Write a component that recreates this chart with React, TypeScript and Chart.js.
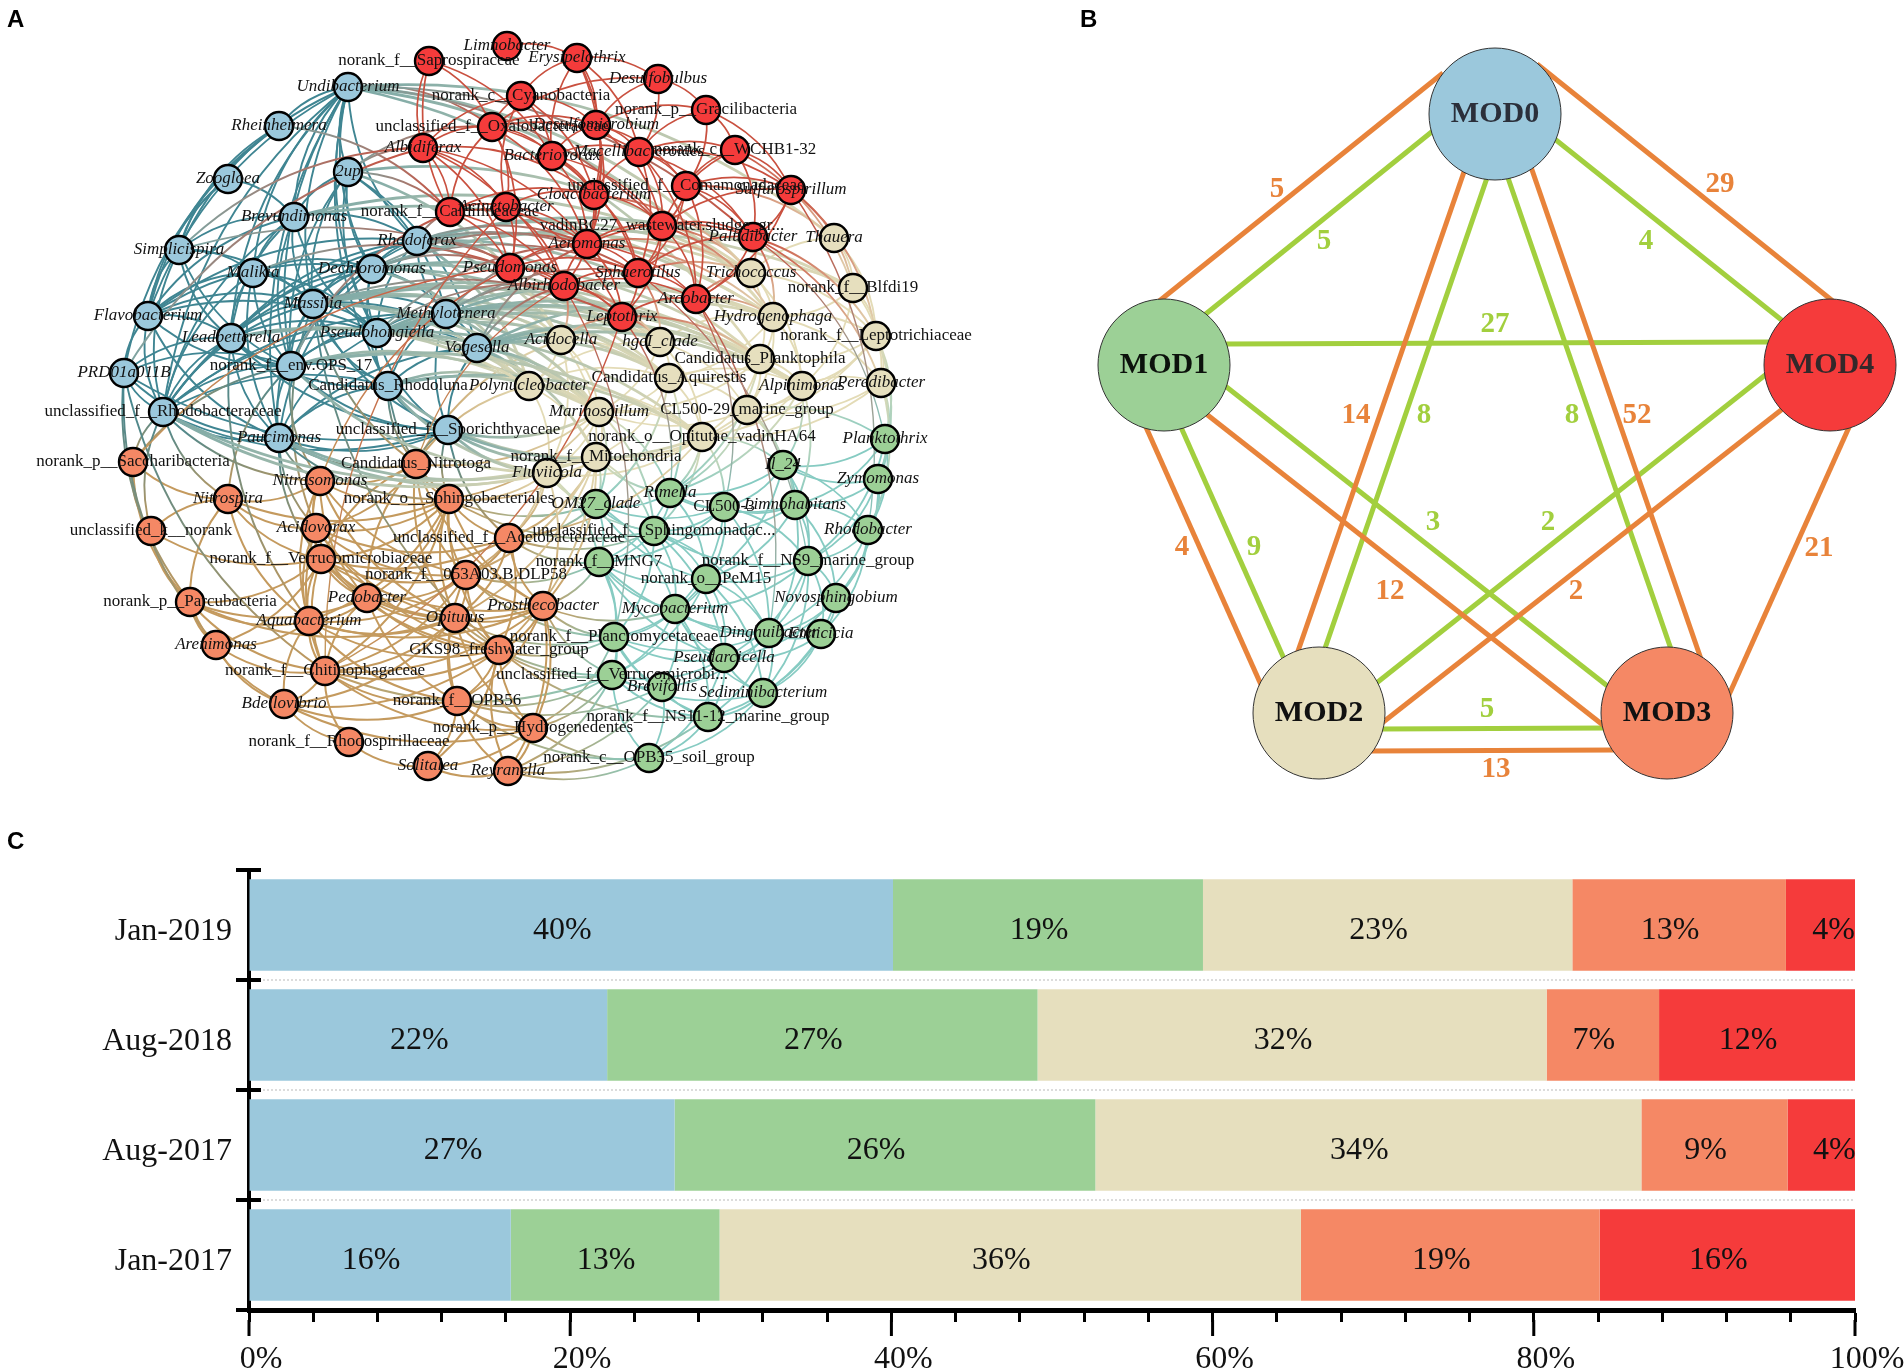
import React, { useEffect, useRef } from "react";
import { Chart, registerables } from "chart.js";
Chart.register(...registerables);

/* ---------- Panel A: network ---------- */
type N = [string, number, number];
const redNodes: N[] = [
  ["Limnobacter", 507, 46], ["Erysipelothrix", 577, 58], ["norank_f__Saprospiraceae", 429, 61], ["Desulfobulbus", 658, 79],
  ["norank_c__Cyanobacteria", 521, 96], ["norank_p__Gracilibacteria", 706, 110], ["Desulfomicrobium", 596, 125],
  ["unclassified_f__Oxalobacteraceae", 492, 127], ["norank_c__WCHB1-32", 735, 150], ["Albidiferax", 423, 148],
  ["Bacteriovorax", 552, 156], ["Macellibacteroides", 639, 152], ["unclassified_f__Comamonadaceae", 686, 186],
  ["Sulfurospirillum", 791, 190], ["Cloacibacterium", 594, 195], ["Acinetobacter", 506, 207],
  ["norank_f__Caldilineaceae", 450, 212], ["vadinBC27_wastewater.sludge_gr...", 662, 226], ["Paludibacter", 753, 237],
  ["Aeromonas", 587, 244], ["Pseudomonas", 510, 268], ["Sphaerotilus", 638, 273], ["Albirhodobacter", 564, 286],
  ["Arcobacter", 696, 299], ["Leptothrix", 622, 317],
];
const beigeNodes: N[] = [
  ["Thauera", 834, 238], ["Trichococcus", 751, 273], ["norank_f__Blfdi19", 853, 288], ["Hydrogenophaga", 773, 317],
  ["norank_f__Leptotrichiaceae", 876, 336], ["Acidocella", 561, 340], ["hgcI_clade", 660, 342],
  ["Candidatus_Planktophila", 760, 359], ["Candidatus_Aquirestis", 669, 378], ["Polynucleobacter", 529, 386],
  ["Alpinimonas", 802, 386], ["Peredibacter", 881, 383], ["Marinoscillum", 599, 412], ["CL500-29_marine_group", 747, 410],
  ["norank_o__Opitutae_vadinHA64", 702, 437], ["norank_f__Mitochondria", 596, 457], ["Fluviicola", 547, 473],
];
const blueNodes: N[] = [
  ["Undibacterium", 348, 87], ["Rheinheimera", 279, 126], ["2up", 348, 172], ["Zoogloea", 228, 179],
  ["Brevundimonas", 294, 217], ["Simplicispira", 179, 250], ["Rhodoferax", 417, 241], ["Dechloromonas", 372, 269],
  ["Malikia", 253, 273], ["Massilia", 313, 304], ["Flavobacterium", 148, 316], ["Methylotenera", 446, 314],
  ["Leadbetterella", 231, 338], ["Pseudohongiella", 377, 333], ["Vogesella", 477, 348], ["norank_f__env.OPS_17", 291, 366],
  ["PRD01a011B", 124, 373], ["Candidatus_Rhodoluna", 388, 386], ["unclassified_f__Rhodobacteraceae", 163, 412],
  ["Paucimonas", 279, 438], ["unclassified_f__Sporichthyaceae", 448, 430],
];
const orangeNodes: N[] = [
  ["norank_p__Saccharibacteria", 133, 462], ["Candidatus_Nitrotoga", 416, 464], ["Nitrosomonas", 320, 481],
  ["Nitrospira", 228, 499], ["norank_o__Sphingobacteriales", 449, 499], ["unclassified_k__norank", 151, 531],
  ["Acidovorax", 316, 528], ["unclassified_f__Acetobacteraceae", 509, 538], ["norank_f__Verrucomicrobiaceae", 321, 559],
  ["norank_f__053A03.B.DLP58", 466, 575], ["norank_p__Parcubacteria", 190, 602], ["Pedobacter", 367, 598],
  ["Prosthecobacter", 543, 606], ["Opitutus", 455, 618], ["Aquabacterium", 309, 621], ["Arenimonas", 216, 645],
  ["GKS98_freshwater_group", 499, 650], ["norank_f__Chitinophagaceae", 325, 671], ["Bdellovibrio", 284, 704],
  ["norank_f__OPB56", 457, 701], ["norank_p__Hydrogenedentes", 533, 728], ["norank_f__Rhodospirillaceae", 349, 742],
  ["Solitalea", 428, 766], ["Reyranella", 508, 771],
];
const greenNodes: N[] = [
  ["Planktothrix", 885, 439], ["Il_24", 783, 465], ["Zymomonas", 878, 479], ["Rimella", 670, 493], ["OM27_clade", 596, 504],
  ["CL500-3", 724, 507], ["Limnohabitans", 795, 505], ["Rhodobacter", 868, 530], ["unclassified_f__Sphingomonadac...", 654, 531],
  ["norank_f__MNG7", 599, 562], ["norank_f__NS9_marine_group", 808, 561], ["norank_o__PeM15", 706, 579],
  ["Novosphingobium", 836, 598], ["Mycobacterium", 675, 609], ["norank_f__Planctomycetaceae", 614, 637],
  ["Dinghuibacter", 769, 633], ["Emticicia", 821, 634], ["Pseudarcicella", 724, 658],
  ["unclassified_f__Verrucomicrobi...", 612, 675], ["Brevifollis", 662, 687], ["Sediminibacterium", 763, 693],
  ["norank_f__NS11-12_marine_group", 708, 717], ["norank_c__OPB35_soil_group", 649, 758],
];

const redLinks = [[1],[4,6,11,14,19,10,3],[7,9,16,10],[5,6,7,11],[7,9,14,10,6,15],[6,8,11,12,13],[7,10,11,12,14,17,19],[9,10,11,14,15,16,19,20],[11,12,13,17,18],[15,16,20,22,14,19],[14,17,19,21,11],[12,14,17,18,21,23,13],[13,17,18,21,23],[18,17,23],[16,15,17,19,21,22],[16,19,20,22,24],[19,20,22],[18,19,21,23,24],[21,23,19],[20,21,22,24,23],[22,21,24],[22,23,24],[24,23],[24],[]];
const beigeLinks = [[2,1,4],[2,3,4,7,10],[3,4,10,11],[4,6,7,8,10,11,13],[7,10,11,13,14],[6,8,9,12,15,16],[7,8,9,12,13,14],[8,10,13,14,12],[9,10,12,13,14,15],[12,15,16,14],[11,13,14],[13,14],[13,14,15,16],[14,15],[15,16],[16],[]];
const blueLinks = [[1,2,4,5,6,7,8,9,10,12,13,15,17,18,19],[5,10,16],[4,7,9,11,13,14,15],[4,5,10],[5,6,8,9,10,12,13,15,18],[8,9,10,12,15,18],[7,9,10,11,12,13,15,18],[8,9,10,11,12,13,15,17,18,19],[9,10,12,13,15,18,19],[10,11,12,13,14,15,17,18,19,20],[12,13,15,16,18,19],[13,14,15,17,18,20],[13,15,16,17,18,19,20],[14,15,17,18,19,20],[17,19,20],[16,17,18,19,20],[18,19,20],[18,19,20],[19,20],[20],[]];
const orangeLinks = [[5,3,10],[2,4,6,8,9,11,12,13],[3,4,6,8,11,14,13,9],[5,6,8,10,14,4],[6,7,8,9,11,12,13,14,16,17],[8,10],[7,8,9,11,13,14,17,16],[8,9,12,13,16],[9,10,11,12,13,14,15,16,17],[11,12,13,14,16,17,19],[11,14,15,17,18,13],[12,13,14,16,17,19],[13,14,16,17,19,20,23],[14,16,17,18,19,20],[15,16,17,18,19],[17,18],[17,18,19,20,22,23],[18,19,20,21],[19,20,21],[20,22,23],[22,23],[22],[23],[]];
const greenLinks = [[1,2,6,7,10],[2,3,5,6,7,10,11],[6,7,10,12],[4,5,6,8,9,11],[5,8,9,11,13],[6,8,9,10,11,13,15],[7,8,10,11,12,15],[10,12,15,16],[9,10,11,13,14,15,17],[11,13,14,15,17,18],[11,12,13,15,16,17,20],[13,14,15,17,18,20],[15,16,17,20],[14,15,17,18,19,20,21],[15,17,18,19,21],[16,17,19,20,21],[17,20,21],[18,19,20,21,22],[19,20,21,22],[21,22],[21,22],[22],[]];

const blueBeigeLinks = [[6,1],[6,3],[6,5],[6,6],[6,7],[6,9],[7,1],[7,5],[7,6],[7,8],[7,9],[9,5],[9,6],[9,8],[9,9],[9,12],[11,5],[11,6],[11,8],[11,9],[11,12],[13,5],[13,6],[13,8],[13,9],[13,12],[13,14],[14,5],[14,6],[14,9],[14,12],[14,15],[15,9],[15,12],[15,14],[15,16],[17,9],[17,12],[17,14],[17,15],[17,16],[20,12],[20,14],[20,15],[20,16],[18,15],[18,16],[19,15],[19,16],[0,0],[0,1],[0,3],[0,7],[4,1],[4,3],[2,1],[2,5],[12,9],[12,12],[7,2],[6,2],[11,3],[13,3],[14,3],[11,7],[13,7],[14,7],[7,7],[14,8],[14,10],[13,10],[11,10],[9,10],[9,7]];
const blueRedLinks = [[1,16],[2,9],[2,7],[2,16],[5,22],[8,20],[6,16],[6,20],[7,20],[11,22],[14,22],[0,7],[13,22],[16,9],[5,9],[9,24],[15,16],[0,17],[0,18],[6,19],[7,19],[11,19],[13,19],[14,19],[6,21],[7,21],[11,21]];
const redBeigeLinks = [[17,1],[18,1],[18,3],[19,1],[21,1],[23,3],[23,1],[24,6],[24,5],[14,1],[12,0],[13,2],[13,4],[8,2],[18,4],[18,11],[21,6],[22,5],[22,6],[17,3],[24,7],[19,3]];
const orangeBlueLinks = [[0,18],[0,15],[3,18],[3,15],[1,9],[1,17],[1,20],[2,15],[2,19],[4,20],[4,17],[6,9],[6,19],[8,19],[16,9],[17,16],[14,12],[10,16],[15,16],[5,18],[4,19],[7,20],[1,19],[2,18]];
const orangeBeigeLinks = [[1,9],[1,12],[4,16],[4,15],[4,12],[7,16],[7,15],[7,14],[9,16],[9,15],[12,16],[12,15],[1,5],[16,15],[13,15]];
const orangeGreenLinks = [[7,4],[7,8],[7,9],[9,9],[9,14],[12,9],[12,13],[12,14],[12,18],[16,14],[16,18],[16,21],[20,14],[20,18],[20,22],[23,22],[23,19],[23,18],[23,21],[19,18],[19,19],[19,22],[13,14],[13,18],[17,18],[4,4],[4,8]];
const beigeGreenLinks = [[14,1],[14,3],[14,5],[14,8],[13,1],[13,0],[13,6],[13,3],[15,4],[15,8],[15,3],[16,4],[16,9],[16,8],[12,4],[12,8],[12,3],[7,3],[8,3],[8,4],[11,0],[11,7],[4,0],[4,2],[10,6],[10,1],[11,2],[10,3]];
const redGreenLinks = [[24,3],[22,14],[18,0],[23,15],[13,7],[23,5],[21,10]];
const redOrangeLinks = [[15,17],[24,17],[20,2],[22,1],[20,0]];

/* ---------- Panel B: module links ---------- */
const moduleNames = ["MOD0", "MOD1", "MOD2", "MOD3", "MOD4"];
const moduleX = [1495, 1164, 1319, 1667, 1830];
const moduleY = [114, 365, 713, 713, 365];
// [x1, y1, x2, y2] of each drawn link
const positiveLinks = [
  [1443, 73, 1158, 302], [1537, 64, 1834, 302], [1465, 169, 1297, 654], [1531, 167, 1701, 659], [1205, 413, 1608, 729],
  [1145, 425, 1262, 687], [1785, 407, 1382, 723], [1850, 425, 1728, 697], [1370, 751, 1615, 750],
];
const negativeLinks = [
  [1434, 130, 1202, 317], [1551, 136, 1784, 322], [1488, 175, 1323, 654], [1507, 175, 1672, 652], [1225, 344, 1770, 342],
  [1224, 385, 1610, 688], [1180, 425, 1285, 661], [1769, 372, 1374, 685], [1380, 729, 1606, 728],
];
const positiveLabels: [string, number, number][] = [
  ["5", 1277, 190], ["29", 1720, 185], ["14", 1356, 416], ["52", 1637, 416], ["4", 1182, 548], ["12", 1390, 592], ["2", 1576, 592], ["21", 1819, 549], ["13", 1496, 770],
];
const negativeLabels: [string, number, number][] = [
  ["5", 1324, 242], ["4", 1646, 242], ["27", 1495, 325], ["8", 1424, 416], ["8", 1572, 416], ["3", 1433, 523], ["2", 1548, 523], ["9", 1254, 548], ["5", 1487, 710],
];

/* ---------- Panel C: stacked bars ---------- */
const periods = ["Jan-2019", "Aug-2018", "Aug-2017", "Jan-2017"];
const mod0Share = [40.1, 22.3, 26.5, 16.3];
const mod1Share = [19.3, 26.8, 26.2, 13.0];
const mod2Share = [23.0, 31.7, 34.0, 36.2];
const mod3Share = [13.3, 7.0, 9.1, 18.6];
const mod4Share = [4.3, 12.2, 4.2, 15.9];
const mod0Text = ["40%", "22%", "27%", "16%"];
const mod1Text = ["19%", "27%", "26%", "13%"];
const mod2Text = ["23%", "32%", "34%", "36%"];
const mod3Text = ["13%", "7%", "9%", "19%"];
const mod4Text = ["4%", "12%", "4%", "16%"];

const BLUE = "#9BC8DC", GREEN = "#9CD096", BEIGE = "#E6DFBE", ORANGE = "#F58865", RED = "#F53B3B";
const E_BLUE = "#3f8592", E_BLUE_SOFT = "#7ba8a6", E_GREEN = "#86cbc2", E_BEIGE = "#e3dbb6", E_ORANGE = "#c49a5e", E_RED = "#c9503f";
const SERIF = "'Liberation Serif'";

const isPlain = (s: string) => /^(norank|unclassified|Candidatus|CL500|vadinBC27|GKS98)/.test(s);

function collectEdges() {
  const out: { a: N; b: N; ca: string; cb: string; w: number }[] = [];
  const cross = (l: number[][], A: N[], B: N[], ca: string, cb: string, w = 1.9) =>
    l.forEach(([i, j]) => out.push({ a: A[i], b: B[j], ca, cb, w }));
  const within = (l: number[][], A: N[], c: string, w = 1.9) =>
    l.forEach((t, i) => t.forEach((j) => out.push({ a: A[i], b: A[j], ca: c, cb: c, w })));
  within(beigeLinks, beigeNodes, E_BEIGE, 1.8);
  within(greenLinks, greenNodes, E_GREEN, 1.8);
  cross(beigeGreenLinks, beigeNodes, greenNodes, E_BEIGE, E_GREEN);
  cross(orangeGreenLinks, orangeNodes, greenNodes, E_ORANGE, E_GREEN);
  cross(orangeBeigeLinks, orangeNodes, beigeNodes, E_ORANGE, E_BEIGE);
  within(orangeLinks, orangeNodes, E_ORANGE, 2);
  within(blueLinks, blueNodes, E_BLUE, 1.9);
  cross(orangeBlueLinks, orangeNodes, blueNodes, E_ORANGE, E_BLUE);
  cross(blueBeigeLinks, blueNodes, beigeNodes, E_BLUE_SOFT, E_BEIGE, 2.8);
  cross(redBeigeLinks, redNodes, beigeNodes, E_RED, E_BEIGE);
  cross(blueRedLinks, blueNodes, redNodes, E_BLUE_SOFT, E_RED);
  cross(redGreenLinks, redNodes, greenNodes, E_RED, E_GREEN, 1.4);
  cross(redOrangeLinks, redNodes, orangeNodes, E_RED, E_ORANGE, 1.4);
  within(redLinks, redNodes, E_RED, 1.7);
  return out;
}

const networkPlugin = {
  id: "network",
  beforeDatasetsDraw(chart: any) {
    const { ctx, scales } = chart;
    const sx = scales.x, sy = scales.y;
    const cx = sx.getPixelForValue(500), cy = sy.getPixelForValue(410);
    ctx.save();
    ctx.lineCap = "round";
    collectEdges().forEach((e) => {
      const x1 = sx.getPixelForValue(e.a[1]), y1 = sy.getPixelForValue(e.a[2]);
      const x2 = sx.getPixelForValue(e.b[1]), y2 = sy.getPixelForValue(e.b[2]);
      const mx = (x1 + x2) / 2, my = (y1 + y2) / 2;
      let nx = -(y2 - y1) * 0.2, ny = (x2 - x1) * 0.2;
      if (nx * (mx - cx) + ny * (my - cy) < 0) { nx = -nx; ny = -ny; }
      const g = ctx.createLinearGradient(x1, y1, x2, y2);
      g.addColorStop(0, e.ca);
      g.addColorStop(1, e.cb);
      ctx.strokeStyle = g;
      ctx.lineWidth = e.w;
      ctx.beginPath();
      ctx.moveTo(x1, y1);
      ctx.quadraticCurveTo(mx + nx, my + ny, x2, y2);
      ctx.stroke();
    });
    ctx.restore();
  },
  afterDatasetsDraw(chart: any) {
    const { ctx, scales } = chart;
    ctx.save();
    ctx.fillStyle = "#111";
    ctx.textAlign = "center";
    ctx.textBaseline = "middle";
    [redNodes, beigeNodes, blueNodes, orangeNodes, greenNodes].forEach((list) =>
      list.forEach(([name, x, y]) => {
        ctx.font = `${isPlain(name) ? "" : "italic "}17px ${SERIF}`;
        ctx.fillText(name, scales.x.getPixelForValue(x), scales.y.getPixelForValue(y));
      })
    );
    ctx.restore();
  },
};

const modulePlugin = {
  id: "moduleText",
  afterDatasetsDraw(chart: any) {
    const { ctx, scales } = chart;
    const x = (v: number) => scales.x.getPixelForValue(v), y = (v: number) => scales.y.getPixelForValue(v);
    ctx.save();
    ctx.textAlign = "center";
    ctx.textBaseline = "middle";
    ctx.font = `bold 29px ${SERIF}`;
    ctx.fillStyle = "#E8833A";
    positiveLabels.forEach(([t, a, b]) => ctx.fillText(t, x(a), y(b)));
    ctx.fillStyle = "#A2CF3E";
    negativeLabels.forEach(([t, a, b]) => ctx.fillText(t, x(a), y(b)));
    ctx.font = `bold 30px ${SERIF}`;
    const tc = ["#2b2f3a", "#0c120c", "#111", "#111", "#33282a"];
    moduleNames.forEach((m, i) => {
      ctx.fillStyle = tc[i];
      ctx.fillText(m, x(moduleX[i]), y(moduleY[i]));
    });
    ctx.restore();
  },
};

const stackTexts = [mod0Text, mod1Text, mod2Text, mod3Text, mod4Text];
const barPlugin = {
  id: "barText",
  afterDatasetsDraw(chart: any) {
    const { ctx } = chart;
    ctx.save();
    ctx.font = `32px ${SERIF}`;
    ctx.fillStyle = "#111";
    ctx.textAlign = "center";
    ctx.textBaseline = "middle";
    stackTexts.forEach((texts, d) => {
      chart.getDatasetMeta(d).data.forEach((el: any, i: number) => {
        const shift = texts[i] === "4%" ? 13 : -9;
        ctx.fillText(texts[i], (el.x + el.base) / 2 + shift, el.y + 6);
      });
    });
    ctx.restore();
  },
  afterDraw(chart: any) {
    const { ctx, scales } = chart;
    ctx.save();
    ctx.strokeStyle = "#000";
    ctx.lineWidth = 4;
    periods.concat("").forEach((_, i) => {
      const y = scales.y.getPixelForValue(i - 0.5);
      ctx.beginPath();
      ctx.moveTo(scales.y.right, y);
      ctx.lineTo(scales.y.right + 12, y);
      ctx.stroke();
    });
    ctx.lineWidth = 3;
    scales.x.ticks.forEach((t: any) => {
      if (t.value % 20 !== 0) return;
      const x = scales.x.getPixelForValue(t.value);
      ctx.beginPath();
      ctx.moveTo(x, scales.x.top + 10);
      ctx.lineTo(x, scales.x.top + 26);
      ctx.stroke();
    });
    ctx.restore();
  },
};

const hidden = { display: false };

export default function App() {
  const aRef = useRef<HTMLCanvasElement>(null);
  const bRef = useRef<HTMLCanvasElement>(null);
  const cRef = useRef<HTMLCanvasElement>(null);

  useEffect(() => {
    const net = (list: N[], color: string) => ({
      data: list.map((n) => ({ x: n[1], y: n[2] })),
      backgroundColor: color,
      borderColor: "#000",
      borderWidth: 2.4,
      pointRadius: 14,
      clip: false,
    });
    const base: any = {
      responsive: false,
      animation: false,
      maintainAspectRatio: false,
      devicePixelRatio: 1,
      plugins: { legend: hidden, tooltip: { enabled: false } },
      layout: { padding: 0, autoPadding: false },
      events: [],
    };
    const a = new Chart(aRef.current!, {
      type: "scatter",
      data: {
        datasets: [
          net(redNodes, RED), net(beigeNodes, BEIGE), net(blueNodes, BLUE), net(orangeNodes, ORANGE), net(greenNodes, GREEN),
        ],
      } as any,
      options: {
        ...base,
        scales: {
          x: { type: "linear", min: 0, max: 1060, display: false },
          y: { type: "linear", min: 0, max: 820, reverse: true, display: false },
        },
      },
      plugins: [networkPlugin],
    });

    const lineSet = (l: number[][], color: string) =>
      l.map((s) => ({
        data: [{ x: s[0], y: s[1] }, { x: s[2], y: s[3] }],
        showLine: true,
        borderColor: color,
        borderWidth: 5,
        pointRadius: 0,
        order: 2,
      }));
    const moduleColors = [BLUE, GREEN, BEIGE, ORANGE, RED];
    const b = new Chart(bRef.current!, {
      type: "scatter",
      data: {
        datasets: [
          ...lineSet(positiveLinks, "#E8833A"),
          ...lineSet(negativeLinks, "#A2CF3E"),
          {
            data: moduleNames.map((_, i) => ({ x: moduleX[i], y: moduleY[i] })),
            backgroundColor: moduleColors,
            borderColor: "#333",
            borderWidth: 1,
            pointRadius: 66,
            order: 1,
            clip: false,
          },
        ],
      } as any,
      options: {
        ...base,
        scales: {
          x: { type: "linear", min: 1060, max: 1904, display: false },
          y: { type: "linear", min: 0, max: 830, reverse: true, display: false },
        },
      },
      plugins: [modulePlugin],
    });

    const shares = [mod0Share, mod1Share, mod2Share, mod3Share, mod4Share];
    const c = new Chart(cRef.current!, {
      type: "bar",
      data: {
        labels: periods,
        datasets: shares.map((s, i) => ({
          data: s,
          backgroundColor: moduleColors[i],
          barPercentage: 0.83,
          categoryPercentage: 1,
          stack: "s",
        })),
      },
      options: {
        ...base,
        indexAxis: "y",
        layout: { padding: { top: 40, right: 49, left: 0, bottom: 0 }, autoPadding: false },
        scales: {
          x: {
            type: "linear",
            stacked: true,
            min: 0,
            max: 100,
            afterFit: (s: any) => { s.height = 61; s.paddingRight = 0; s.paddingLeft = 0; },
            border: { color: "#000", width: 5 },
            grid: { drawOnChartArea: false, tickLength: 12, tickWidth: 3, tickColor: "#000" },
            ticks: {
              stepSize: 4,
              autoSkip: false,
              maxRotation: 0,
              padding: 18,
              labelOffset: 12,
              color: "#111",
              font: { family: "Liberation Serif", size: 32 },
              callback: (v: any) => (v % 20 === 0 ? `${v}%` : ""),
            },
          },
          y: {
            type: "category",
            stacked: true,
            afterFit: (s: any) => { s.width = 249; },
            border: { color: "#000", width: 4, dash: [2, 2] },
            grid: {
              offset: true,
              color: (ctx: any) => (ctx.index === 0 || ctx.index === 4 ? "transparent" : "#dcdcdc"),
              lineWidth: 2,
              tickLength: 13,
              tickWidth: 4,
              tickColor: "#000",
            },
            ticks: {
              padding: 4,
              labelOffset: 7,
              color: "#111",
              font: { family: "Liberation Serif", size: 32 },
            },
          },
        },
      },
      plugins: [barPlugin],
    } as any);

    return () => { a.destroy(); b.destroy(); c.destroy(); };
  }, []);

  const letter: React.CSSProperties = {
    position: "absolute",
    font: "bold 24px 'Liberation Sans'",
    color: "#000",
    lineHeight: "24px",
  };
  return (
    <div style={{ position: "absolute", left: 0, top: 0, width: 1904, height: 1371, background: "#fff", overflow: "hidden" }}>
      <canvas ref={aRef} width={1060} height={820} style={{ position: "absolute", left: 0, top: 0 }} />
      <canvas ref={bRef} width={844} height={830} style={{ position: "absolute", left: 1060, top: 0 }} />
      <canvas ref={cRef} width={1904} height={541} style={{ position: "absolute", left: 0, top: 830 }} />
      <div style={{ ...letter, left: 7, top: 7 }}>A</div>
      <div style={{ ...letter, left: 1080, top: 7 }}>B</div>
      <div style={{ ...letter, left: 7, top: 829 }}>C</div>
    </div>
  );
}
